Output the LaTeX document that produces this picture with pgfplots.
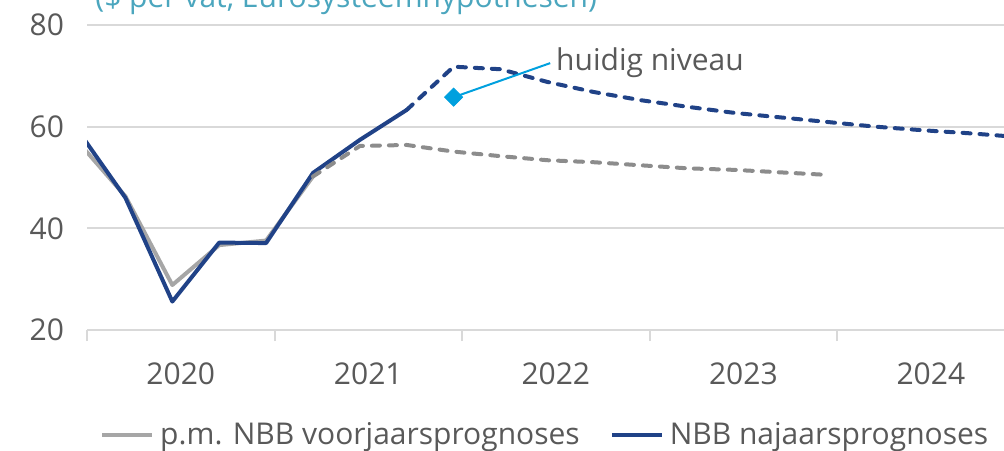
\documentclass[border=0pt]{standalone}
\usepackage{fontspec}
\setmainfont{Open Sans}
\usepackage{pgfplots}
\pgfplotsset{compat=1.18}
\definecolor{navy}{RGB}{32,66,135}
\definecolor{lgray}{RGB}{166,166,166}
\definecolor{dgray}{RGB}{140,140,140}
\definecolor{cyanm}{RGB}{0,160,222}
\definecolor{ttl}{RGB}{75,166,190}
\definecolor{txt}{RGB}{89,89,89}
\definecolor{gridc}{RGB}{217,217,217}
\begin{document}
\begin{tikzpicture}[font=\fontsize{15pt}{18pt}\selectfont]
\useasboundingbox (0,0) rectangle (502pt,-225pt);
\clip (0,0) rectangle (502pt,-225pt);
\node[anchor=base west, text=ttl, inner sep=0pt] at (47.5pt,-3.5pt) {(\$ per vat, Eurosysteemhypothesen)};
\begin{axis}[
  at={(43.5pt,-165pt)}, anchor=south west,
  scale only axis, width=458.5pt, height=152.5pt,
  xmin=0, xmax=19.56, ymin=20, ymax=80,
  ytick={20,40,60,80},
  ymajorgrids, grid style={gridc, line width=1pt},
  xtick={2,6,10,14,18}, xticklabels={2020,2021,2022,2023,2024},
  extra x ticks={0,4,8,12,16}, extra x tick labels={},
  extra x tick style={major tick length=5.5pt, tick align=outside},
  major tick length=0pt,
  tick style={gridc, line width=1pt},
  axis x line*=bottom, axis y line*=left,
  x axis line style={gridc, line width=1pt, -},
  y axis line style={draw=none},
  tick label style={text=txt, font=\fontsize{15pt}{18pt}\selectfont},
  /pgf/number format/assume math mode=true,
  xticklabel style={anchor=north, yshift=-13pt},
  yticklabel style={xshift=-8pt},
  legend style={draw=none, fill=none, at={(axis description cs:0.014,-0.344)}, anchor=west,
    legend columns=2, inner sep=0pt, text=txt, font=\fontsize{15pt}{18pt}\selectfont,
    /tikz/every even column/.append style={column sep=12pt},
    nodes={inner sep=3pt}},
  legend image code/.code={\draw[#1, solid] (0pt,0pt) -- (25pt,0pt);},
]
\addplot[lgray, line width=2pt, line join=round] coordinates {
(-0.18,56.9) (0.82,46.3) (1.82,28.85) (2.82,36.7) (3.82,37.6) (4.82,50.2)};
\addlegendentry{p.m. NBB voorjaarsprognoses}
\addplot[navy, line width=2pt, line join=round] coordinates {
(-0.18,59.1) (0.82,46.0) (1.82,25.6) (2.82,37.2) (3.82,37.1) (4.82,50.9) (5.82,57.4) (6.82,63.3)};
\addlegendentry{NBB najaarsprognoses}
\addplot[dgray, line width=2pt, line cap=round, dash pattern=on 4pt off 4.5pt, forget plot] coordinates {
(4.82,50.2) (5.82,56.2) (6.82,56.4) (7.82,55.1) (8.82,54.2) (9.82,53.4) (10.82,53.0) (11.82,52.4) (12.82,51.8) (13.82,51.5) (14.82,51.0) (15.82,50.5)};
\addplot[navy, line width=2pt, line cap=round, dash pattern=on 4pt off 4.5pt, forget plot] coordinates {
(6.82,63.3) (7.82,71.8) (8.82,71.3) (9.82,68.8) (10.82,66.8) (11.82,65.2) (12.82,63.9) (13.82,62.7) (14.82,61.8) (15.82,60.9) (16.82,60.0) (17.82,59.3) (18.82,58.7) (19.82,58.0)};
\draw[cyanm, line width=1pt] (axis cs:7.82,65.8) -- (axis cs:9.88,72.5) node[anchor=west, text=txt, inner sep=2.5pt] {huidig niveau};
\addplot[only marks, mark=square*, mark size=3.2pt, mark options={rotate=45, fill=cyanm, draw=cyanm}, forget plot] coordinates {(7.82,65.8)};
\end{axis}
\end{tikzpicture}
\end{document}
